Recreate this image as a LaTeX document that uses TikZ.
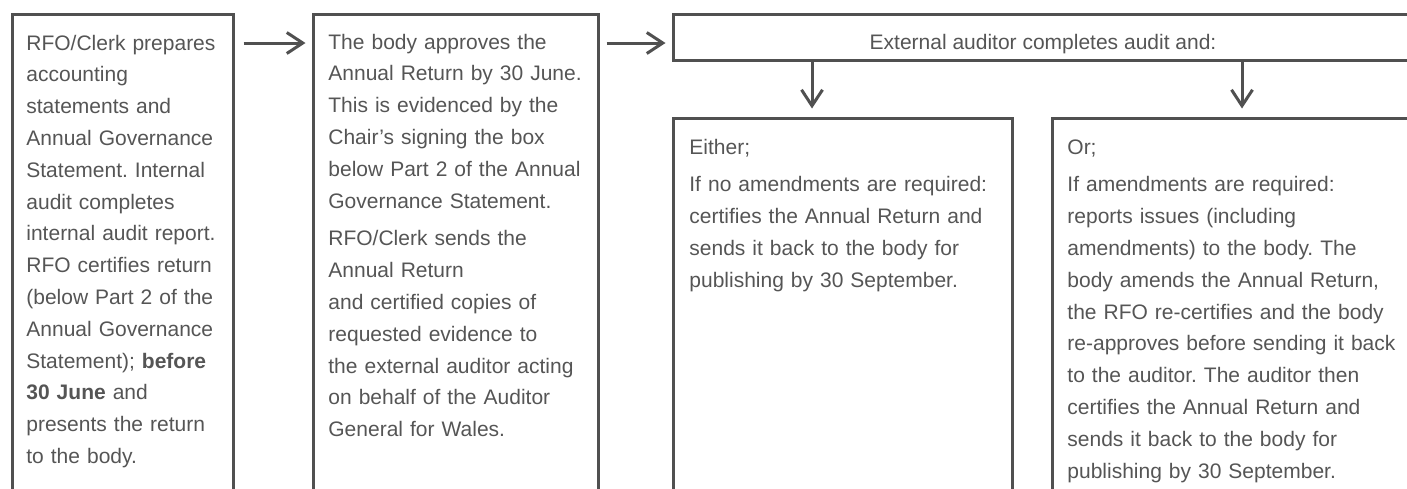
\documentclass[tikz,border=0pt]{standalone}
\usepackage{fontspec}
\setmainfont{Liberation Sans}
\usetikzlibrary{arrows.meta,fit}
\frenchspacing
\definecolor{boxgray}{HTML}{505050}
\definecolor{txtgray}{HTML}{555555}
\tikzset{
  box/.style={draw=boxgray, line width=1.5pt, inner sep=0pt, rectangle},
  txt/.style={text=txtgray, font=\fontsize{10.5}{15.9}\selectfont\frenchspacing, align=left,
    inner sep=0pt, anchor=base west, text width=200pt},
  arr/.style={draw=boxgray, line width=1.5pt,
    -{Straight Barb[length=8pt,width=10.5pt,line width=1.5pt]}}
}
\begin{document}
\begin{tikzpicture}[x=0.5pt,y=-0.5pt]
\useasboundingbox (0,0) rectangle (1407,488);
\clip (0,0) rectangle (1407,488);
% boxes
\node[box, fit={(12,14) (233,500)}] (b1) {};
\node[box, fit={(313,14) (598,500)}] (b2) {};
\node[box, fit={(673,14) (1413,60)}] (top) {};
\node[box, fit={(673,118) (1012,500)}] (either) {};
\node[box, fit={(1052,118) (1413,500)}] (orbox) {};
% texts
\node[txt] (t1) at (26,50) {RFO/Clerk prepares\\
accounting\\
statements and\\
Annual Governance\\
Statement. Internal\\
audit completes\\
internal audit report.\\
RFO certifies return\\
(below Part 2 of the\\
Annual Governance\\
Statement); \textbf{before}\\
\textbf{30 June} and\\
presents the return\\
to the body.};
\node[txt] (t2) at (328,49) {The body approves the\\
Annual Return by 30 June.\\
This is evidenced by the\\
Chair's signing the box\\
below Part 2 of the Annual\\
Governance Statement.\\[3pt]
RFO/Clerk sends the\\
Annual Return\\
and certified copies of\\
requested evidence to\\
the external auditor acting\\
on behalf of the Auditor\\
General for Wales.};
\node[text=txtgray, font=\fontsize{10.5}{15.9}\selectfont, inner sep=0pt, anchor=base] (ttop) at (1043,49) {External auditor completes audit and:};
\node[txt] (t3) at (689,154) {Either;\\[3pt]
If no amendments are required:\\
certifies the Annual Return and\\
sends it back to the body for\\
publishing by 30 September.};
\node[txt] (t4) at (1067,154) {Or;\\[3pt]
If amendments are required:\\
reports issues (including\\
amendments) to the body. The\\
body amends the Annual Return,\\
the RFO re-certifies and the body\\
re-approves before sending it back\\
to the auditor. The auditor then\\
certifies the Annual Return and\\
sends it back to the body for\\
publishing by 30 September.};
% connectors
\coordinate (ya) at (0,43);
\coordinate (xl) at (812,0);
\coordinate (xr) at (1242,0);
\draw[arr, shorten <=4.5pt, shorten >=3pt] (b1.east |- ya) -- (b2.west |- ya);
\draw[arr, shorten <=3.5pt, shorten >=3pt] (b2.east |- ya) -- (top.west |- ya);
\draw[arr, shorten >=4pt] (top.south -| xl) -- (either.north -| xl);
\draw[arr, shorten >=4pt] (top.south -| xr) -- (orbox.north -| xr);
\end{tikzpicture}
\end{document}
